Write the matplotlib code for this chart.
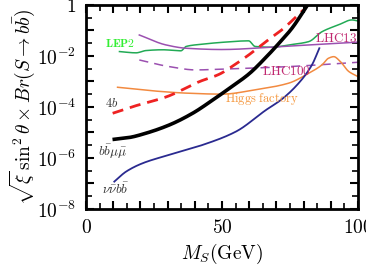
import numpy as np
import matplotlib.pyplot as plt
from matplotlib.ticker import FixedLocator

plt.rcParams['mathtext.fontset'] = 'cm'
plt.rcParams['font.family'] = 'serif'
plt.rcParams['font.serif'] = ['DejaVu Serif']

# Curvas (M_S em GeV, log10 do limite)
m_bbmumu = [10.4, 15.9, 22.1, 30.6, 39.2, 46.6, 53.0, 60.0, 66.4, 71.0, 75.7, 81.5]
log_bbmumu = [-5.27, -5.2, -5.03, -4.71, -4.25, -3.73, -3.25, -2.7, -2.03, -1.5, -0.92, 0.0]

m_4b = [9.8, 17.2, 29.7, 41.9, 49.0, 54.2, 60.0, 66.4, 72.1, 79.9]
log_4b = [-4.25, -3.99, -3.6, -3.0, -2.72, -2.38, -1.95, -1.42, -0.97, -0.2]

m_nunubb = [10.4, 14.7, 20.8, 30.6, 42.9, 55.1, 66.2, 72.0, 78.2, 83.1, 85.8]
log_nunubb = [-6.93, -6.54, -6.21, -5.88, -5.49, -4.97, -4.12, -3.7, -3.07, -2.35, -1.7]

m_higgs = [11.6, 24.5, 36.8, 50.0, 62.2, 74.5, 81.9, 86.8, 89.2, 91.1, 93.5, 96.6, 99.8]
log_higgs = [-3.23, -3.37, -3.46, -3.5, -3.33, -3.07, -2.68, -2.35, -2.09, -2.03, -2.22,
             -2.61, -2.8]

m_lep2 = [12.3, 18.4, 22.1, 28.2, 34.9, 36.8, 42.9, 49.8, 59.8, 62.2,
          68.4, 74.5, 81.9, 86.8, 92.9, 97.8, 100.0]
log_lep2 = [-1.83, -1.88, -1.79, -1.76, -1.8, -1.63, -1.54, -1.47, -1.41, -1.63,
            -1.66, -1.57, -1.44, -1.05, -0.78, -0.59, -0.63]

m_lhc13 = [19.6, 29.4, 36.8, 49.8, 72.0, 100.0]
log_lhc13 = [-1.18, -1.57, -1.7, -1.75, -1.63, -1.46]

m_lhc100 = [19.6, 30.6, 40.4, 49.8, 74.5, 100.0]
log_lhc100 = [-2.16, -2.42, -2.55, -2.52, -2.42, -2.25]


def suave(m, logy, n=300):
    """Interpolacao monotona (PCHIP) em log10, so para desenhar."""
    x = np.asarray(m, float)
    y = np.asarray(logy, float)
    h = np.diff(x)
    d = np.diff(y) / h
    t = np.zeros_like(y)
    t[0], t[-1] = d[0], d[-1]
    for k in range(1, len(x) - 1):
        if d[k - 1] * d[k] > 0:
            w1 = 2 * h[k] + h[k - 1]
            w2 = h[k] + 2 * h[k - 1]
            t[k] = (w1 + w2) / (w1 / d[k - 1] + w2 / d[k])
    xx = np.linspace(x[0], x[-1], n)
    i = np.clip(np.searchsorted(x, xx) - 1, 0, len(x) - 2)
    s = (xx - x[i]) / h[i]
    h00 = 2 * s**3 - 3 * s**2 + 1
    h10 = s**3 - 2 * s**2 + s
    h01 = -2 * s**3 + 3 * s**2
    h11 = s**3 - s**2
    yy = h00 * y[i] + h10 * h[i] * t[i] + h01 * y[i + 1] + h11 * h[i] * t[i + 1]
    return xx, 10 ** yy


fig = plt.figure(figsize=(3.66, 2.72), dpi=100)
ax = fig.add_axes([0.235, 0.232, 0.743, 0.750])
ax.set_yscale('log')

ax.plot(*suave(m_lep2, log_lep2), color='#22aa55', lw=1.1)
ax.plot(*suave(m_lhc13, log_lhc13), color='#9b50b0', lw=1.1)
ax.plot(*suave(m_lhc100, log_lhc100), color='#9b50b0', lw=1.1, ls=(0, (6, 4)))
ax.plot(*suave(m_higgs, log_higgs), color='#f28a40', lw=1.1)
ax.plot(*suave(m_nunubb, log_nunubb), color='#2a2a90', lw=1.3)
ax.plot(*suave(m_4b, log_4b), color='#ee2222', lw=2.0, ls=(0, (4, 2.5)))
ax.plot(*suave(m_bbmumu, log_bbmumu), color='black', lw=2.6)

ax.text(7.1, 10 ** -1.5, r'$\mathbf{LEP2}$', color='#33ee33', fontsize=8.5, va='center')
ax.text(84.1, 10 ** -1.31, r'$\mathrm{LHC13}$', color='#c02870', fontsize=9.5, va='center')
ax.text(64.7, 10 ** -2.61, r'$\mathrm{LHC100}$', color='#c02870', fontsize=9.5, va='center')
ax.text(51.2, 10 ** -3.7, r'$\mathrm{Higgs\ factory}$', color='#f5983f', fontsize=9,
        va='center')
ax.text(7, 10 ** -3.85, r'$4b$', color='#333333', fontsize=9, va='center')
ax.text(4.5, 10 ** -5.75, r'$b\bar{b}\mu\bar{\mu}$', color='#333333', fontsize=9.5,
        va='center')
ax.text(5.8, 10 ** -7.25, r'$\nu\bar{\nu}b\bar{b}$', color='#333333', fontsize=9.5,
        va='center')

ax.set_xlim(0, 100)
ax.set_ylim(1e-8, 1)

ax.xaxis.set_major_locator(FixedLocator(np.arange(0, 101, 10)))
ax.xaxis.set_minor_locator(FixedLocator(np.arange(5, 100, 10)))
ax.set_xticklabels(['$0$' if v == 0 else '$50$' if v == 50 else '$100$' if v == 100 else ''
                    for v in range(0, 101, 10)])
ax.yaxis.set_major_locator(FixedLocator(10.0 ** np.arange(-8, 1)))
ax.yaxis.set_minor_locator(FixedLocator(10.0 ** (np.arange(-8, 0) + 0.5)))
ylabels = []
for e in range(-8, 1):
    if e == 0:
        ylabels.append('$1$')
    elif e % 2 == 0:
        ylabels.append('$10^{%d}$' % e)
    else:
        ylabels.append('')
ax.set_yticklabels(ylabels)

ax.tick_params(which='both', direction='in', top=True, right=True, labelsize=14)
ax.tick_params(which='major', length=6, width=1.5, pad=7)
ax.tick_params(which='minor', length=4, width=1.2)
for s in ax.spines.values():
    s.set_linewidth(2)

ax.set_xlabel(r'$M_S(\mathrm{GeV})$', fontsize=14)
ax.set_ylabel(r'$\sqrt{\xi}\,\sin^2\theta\times Br(S\to b\bar{b})$', fontsize=14, labelpad=0)

fig.savefig('out.png', dpi=100)
